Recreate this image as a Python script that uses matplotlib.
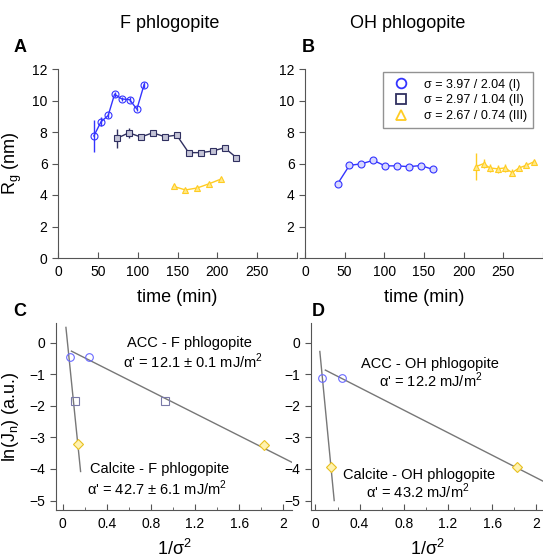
import matplotlib
matplotlib.use('Agg')
import matplotlib.pyplot as plt
import numpy as np

plt.rcParams['font.family'] = ['Liberation Sans', 'DejaVu Sans']
plt.rcParams['mathtext.fontset'] = 'custom'
plt.rcParams['mathtext.rm'] = 'Liberation Sans'

# panel A - F phlogopite, Rg vs time
a_t1 = [45, 54, 63, 71, 80, 90, 99, 108]
a_rg1 = [7.75, 8.65, 9.05, 10.4, 10.1, 10.05, 9.45, 11.0]
a_err1 = [1.0, 0.3, 0.15, 0.15, 0.1, 0.15, 0.1, 0.2]
a_t2 = [74, 89, 104, 119, 134, 149, 164, 179, 194, 209, 224]
a_rg2 = [7.6, 7.95, 7.68, 7.95, 7.7, 7.8, 6.69, 6.69, 6.79, 7.0, 6.37]
a_err2 = [0.6, 0.3, 0.15, 0.1, 0.1, 0.1, 0.05, 0.05, 0.05, 0.1, 0.05]
a_t3 = [145, 160, 175, 190, 205]
a_rg3 = [4.55, 4.32, 4.45, 4.72, 5.02]
a_err3 = [0.15, 0.1, 0.1, 0.1, 0.1]

# panel B - OH phlogopite
b_t1 = [41, 56, 71, 86, 101, 116, 131, 146, 161]
b_rg1 = [4.7, 5.88, 5.98, 6.2, 5.85, 5.85, 5.8, 5.87, 5.63]
b_err1 = [0.05, 0.15, 0.1, 0.1, 0.15, 0.15, 0.1, 0.1, 0.05]
b_t3 = [215, 225, 233, 243, 252, 261, 270, 279, 289]
b_rg3 = [5.79, 5.99, 5.72, 5.66, 5.72, 5.42, 5.72, 5.89, 6.12]
b_err3 = [0.85, 0.3, 0.25, 0.25, 0.25, 0.2, 0.15, 0.15, 0.1]

legend_labels = ['σ = 3.97 / 2.04 (I)', 'σ = 2.97 / 1.04 (II)', 'σ = 2.67 / 0.74 (III)']

# panel C / D - ln(Jn) vs 1/sigma^2
inv_s2_I = [0.063, 0.240]
inv_s2_II = [0.113, 0.925]
inv_s2_III = [0.140, 1.826]
c_ln_I = [-0.46, -0.46]
c_ln_II = [-1.84, -1.84]
c_ln_III = [-3.22, -3.25]
d_ln_I = [-1.13, -1.13]
d_ln_III = [-3.93, -3.93]

# fit lines: (x start, x end, intercept, slope)
c_fit_acc = (0.08, 2.1, -0.13, -1.76)
c_fit_cal = (0.03, 0.163, 1.51, -34.3)
d_fit_acc = (0.09, 2.06, -0.71, -1.785)
d_fit_cal = (0.04, 0.17, 1.17, -36.3)

blue = '#3434ff'
navy = '#303060'
yellow = '#ffcc22'

fig = plt.figure(figsize=(5.43, 5.58), dpi=100)

axA = fig.add_axes([58/543, 1-258/558, 239/543, 189/558])
axB = fig.add_axes([305/543, 1-258/558, 238/543, 189/558])
axC = fig.add_axes([56/543, 1-510/558, 236/543, 187/558])
axD = fig.add_axes([311/543, 1-510/558, 232/543, 187/558])

for ax in (axA, axB, axC, axD):
    ax.spines['top'].set_visible(False)
    ax.spines['right'].set_visible(False)
    ax.spines['left'].set_color('#555555')
    ax.spines['bottom'].set_color('#555555')
    ax.tick_params(axis='x', direction='in', labelsize=10, length=4, color='#555555', pad=5)
    ax.tick_params(axis='y', direction='out', labelsize=10, length=4, color='#555555')

ekw = dict(elinewidth=1, capsize=0, markersize=5, lw=1.0, mew=0.8)
axA.errorbar(a_t1, a_rg1, yerr=a_err1, fmt='-o', color=blue, mfc='none', **ekw)
axA.errorbar(a_t2, a_rg2, yerr=a_err2, fmt='-s', color=navy, mfc='#c4c4d6',
             elinewidth=1, capsize=0, markersize=4.5, lw=1.0, mew=0.8)
axA.errorbar(a_t3, a_rg3, yerr=a_err3, fmt='-^', color=yellow, mfc='#ffe98a', **ekw)

axB.errorbar(b_t1, b_rg1, yerr=b_err1, fmt='-o', color=blue, mfc='#d8d8ff', **ekw)
axB.errorbar(b_t3, b_rg3, yerr=b_err3, fmt='-^', color=yellow, mfc='#ffe98a', **ekw)

for ax in (axA, axB):
    ax.set_xlim(0, 300)
    ax.set_ylim(0, 12)
    ax.set_xticks([0, 50, 100, 150, 200, 250, 300])
    ax.set_xticklabels(['0', '50', '100', '150', '200', '250', ''])
    ax.set_yticks([0, 2, 4, 6, 8, 10, 12])
    ax.set_xlabel('time (min)', fontsize=13, labelpad=7)
axB.set_yticklabels(['', '2', '4', '6', '8', '10', '12'])
axA.set_ylabel('R$_\\mathregular{g}$ (nm)', fontsize=13, labelpad=6)

h1, = axB.plot([], [], 'o', color=blue, mfc='none', ms=7, mew=1.3)
h2, = axB.plot([], [], 's', color=navy, mfc='none', ms=7, mew=1.3)
h3, = axB.plot([], [], '^', color=yellow, mfc='none', ms=7, mew=1.3)
axB.legend([h1, h2, h3], legend_labels, loc='upper right', bbox_to_anchor=(0.985, 1.015),
           fontsize=9, frameon=True, fancybox=False, edgecolor='#777777',
           handletextpad=0.8, labelspacing=0.3, borderpad=0.5)

def fit_line(ax, fit):
    x0, x1, b, m = fit
    xs = np.array([x0, x1])
    ax.plot(xs, b + m * xs, color='#777777', lw=1)

mkw = dict(ms=5.5, mew=0.8, ls='none')
fit_line(axC, c_fit_acc)
fit_line(axC, c_fit_cal)
axC.plot(inv_s2_I, c_ln_I, 'o', color='#6a6aff', mfc='none', **mkw)
axC.plot(inv_s2_II, c_ln_II, 's', color='#7a7aa8', mfc='none', **mkw)
axC.plot(inv_s2_III, c_ln_III, 'D', color='#e8c020', mfc='#fff2b0', **mkw)

fit_line(axD, d_fit_acc)
fit_line(axD, d_fit_cal)
axD.plot(inv_s2_I, d_ln_I, 'o', color='#6a6aff', mfc='none', **mkw)
axD.plot(inv_s2_III, d_ln_III, 'D', color='#e8c020', mfc='#fff2b0', **mkw)

for ax in (axC, axD):
    ax.set_ylim(-5.3, 0.62)
    ax.set_yticks([0, -1, -2, -3, -4, -5])
    ax.set_xticks([0, 0.4, 0.8, 1.2, 1.6, 2])
    ax.set_xticklabels(['0', '0.4', '0.8', '1.2', '1.6', '2'])
    ax.set_xticks(np.arange(0.2, 2.0, 0.4), minor=True)
    ax.tick_params(axis='x', which='minor', direction='in', length=2.5, color='#555555')
    ax.set_xlabel('1/σ$^\\mathregular{2}$', fontsize=13, labelpad=6)
axC.set_xlim(-0.06, 2.08)
axD.set_xlim(-0.04, 2.06)
axC.set_ylabel('ln(J$_\\mathregular{n}$) (a.u.)', fontsize=13, labelpad=6)

tk = dict(fontsize=10.5, ha='center', va='center')
axC.text(1.15, -0.02, 'ACC - F phlogopite', **tk)
axC.text(1.18, -0.6, "α' = 12.1 ± 0.1 mJ/m$^\\mathregular{2}$", **tk)
axC.text(0.88, -3.99, 'Calcite - F phlogopite', **tk)
axC.text(0.86, -4.63, "α' = 42.7 ± 6.1 mJ/m$^\\mathregular{2}$", **tk)
axD.text(1.04, -0.67, 'ACC - OH phlogopite', **tk)
axD.text(1.04, -1.2, "α' = 12.2 mJ/m$^\\mathregular{2}$", **tk)
axD.text(0.94, -4.19, 'Calcite - OH phlogopite', **tk)
axD.text(0.93, -4.72, "α' = 43.2 mJ/m$^\\mathregular{2}$", **tk)

fig.text(170/543, 1-24/558, 'F phlogopite', fontsize=13, ha='center', va='center')
fig.text(408/543, 1-24/558, 'OH phlogopite', fontsize=13, ha='center', va='center')
for lab, x, y in [('A', 20, 47), ('B', 308, 47), ('C', 20, 312), ('D', 318, 312)]:
    fig.text(x/543, 1-y/558, lab, fontsize=13, fontweight='bold', ha='center', va='center')

fig.savefig('out.png', dpi=100)
